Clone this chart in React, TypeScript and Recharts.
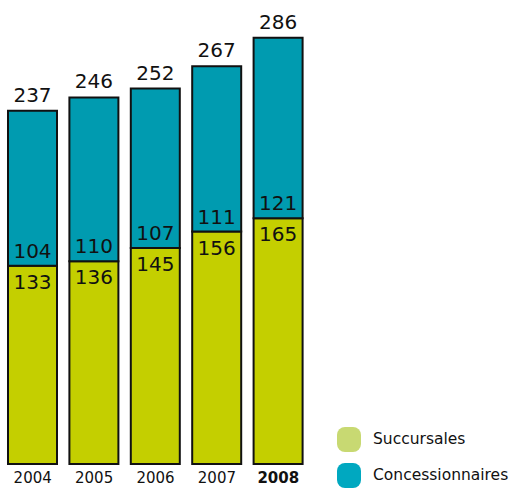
import React from "react";
import { BarChart, Bar, XAxis, YAxis, LabelList } from "recharts";

const years = ["2004", "2005", "2006", "2007", "2008"];
const succursales = [133, 136, 145, 156, 165];
const concessionnaires = [104, 110, 107, 111, 121];
const totals = [237, 246, 252, 267, 286];
const legendItems = [
  { name: "Succursales", color: "#c8d972" },
  { name: "Concessionnaires", color: "#00a8c0" },
];

const data = years.map((y, i) => ({
  year: y,
  succ: succursales[i],
  conc: concessionnaires[i],
  total: totals[i],
}));

const FONT = "'DejaVu Sans', Verdana, sans-serif";
const YELLOW = "#c4cf00";
const TEAL = "#009bb0";

const XTick = (props: any) => {
  const { x, y, payload } = props;
  const bold = payload.value === "2008";
  return (
    <text x={x} y={y + 11} textAnchor="middle" fontFamily={FONT} fontSize={15} fontWeight={bold ? "bold" : "normal"} fill="#111">
      {payload.value}
    </text>
  );
};

const concLabel = (props: any) => {
  const { x, y, width, height, value } = props;
  return (
    <text x={x + width / 2} y={y + height - 8} textAnchor="middle" fontFamily={FONT} fontSize={20} fill="#111">
      {value}
    </text>
  );
};

const totalLabel = (props: any) => {
  const { x, y, width, index } = props;
  return (
    <text x={x + width / 2} y={y - 9} textAnchor="middle" fontFamily={FONT} fontSize={20} fill="#111">
      {totals[index]}
    </text>
  );
};

const succLabel = (props: any) => {
  const { x, y, width, value } = props;
  return (
    <text x={x + width / 2} y={y + 23} textAnchor="middle" fontFamily={FONT} fontSize={20} fill="#111">
      {value}
    </text>
  );
};

export default function App() {
  return (
    <div style={{ position: "absolute", left: 0, top: 0, width: 513, height: 488, overflow: "hidden", background: "#fff" }}>
      <BarChart
        width={513}
        height={488}
        data={data}
        margin={{ top: 17, right: 204, bottom: 0, left: 2 }}
        barSize={49}
      >
        <XAxis dataKey="year" axisLine={false} tickLine={false} height={24} tick={<XTick />} interval={0} />
        <YAxis hide domain={[0, 300]} />
        <Bar dataKey="succ" stackId="a" fill={YELLOW} stroke="#111" strokeWidth={2} isAnimationActive={false}>
          <LabelList dataKey="succ" content={succLabel} />
        </Bar>
        <Bar dataKey="conc" stackId="a" fill={TEAL} stroke="#111" strokeWidth={2} isAnimationActive={false}>
          <LabelList dataKey="conc" content={concLabel} />
          <LabelList dataKey="total" content={totalLabel} />
        </Bar>
      </BarChart>
      <div style={{ position: "absolute", left: 337, top: 421, fontFamily: FONT, fontSize: 15.5, color: "#111" }}>
        {legendItems.map((it) => (
          <div key={it.name} style={{ display: "flex", alignItems: "center", height: 36 }}>
            <div style={{ width: 24, height: 25, borderRadius: 8, background: it.color, marginRight: 12 }} />
            <span>{it.name}</span>
          </div>
        ))}
      </div>
    </div>
  );
}
